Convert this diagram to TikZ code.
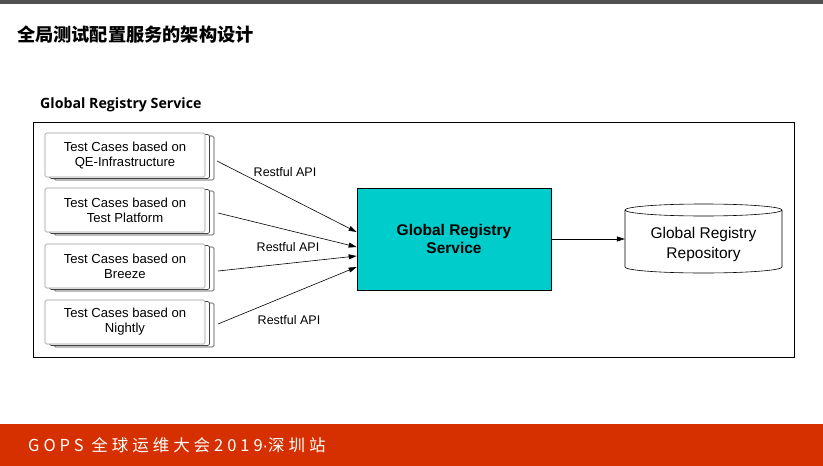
\documentclass[tikz,border=0pt]{standalone}
\usepackage{fontspec}
\setmainfont{Liberation Sans}
\newfontfamily\cjk{Noto Sans CJK SC}
\newfontfamily\cjkspaced[LetterSpace=24]{Noto Sans CJK SC}
\newfontfamily\dotfont[LetterSpace=24]{Liberation Sans}
\newfontfamily\headfont{Open Sans}
\usetikzlibrary{arrows.meta,shapes.geometric,shadows}
\definecolor{topgray}{RGB}{80,80,80}
\definecolor{barred}{RGB}{214,48,0}
\definecolor{svccyan}{RGB}{0,204,204}
\tikzset{
  tcbox/.style={draw=gray!80, fill=white, rounded corners=1.5pt, minimum width=160pt, minimum height=44pt,
    inner sep=0pt, align=center, font=\fontsize{13.1}{15}\selectfont, line width=0.6pt,
    double copy shadow={shadow xshift=4.5pt, shadow yshift=-1.5pt, draw=black!75, fill=white}},
  svcbox/.style={draw=black, fill=svccyan, minimum width=194pt, minimum height=102pt, align=center,
    font=\fontsize{15.5}{18}\selectfont\bfseries, line width=0.7pt},
  repo/.style={minimum width=157pt, minimum height=69pt, inner sep=0pt},
  repoline/.style={draw=black, fill=white, line width=0.6pt},
  repotxt/.style={align=center, inner sep=0pt, font=\fontsize{15.5}{20}\selectfont},
  api/.style={font=\fontsize{12.5}{14}\selectfont},
  link/.style={-{Triangle[length=8pt,width=5pt]}, line width=0.6pt}
}
\begin{document}
\begin{tikzpicture}[x=1pt,y=-1pt]
\useasboundingbox (0,0) rectangle (823,466);
\fill[topgray] (0,0) rectangle (823,4);
\node[anchor=west, inner sep=0pt, font=\cjk\bfseries\fontsize{18.2}{20}\selectfont] (title) at (17,35) {全局测试配置服务的架构设计};
\node[anchor=west, inner sep=0pt, font=\headfont\bfseries\fontsize{14.2}{16}\selectfont] (head) at (40,105) {Global Registry Service};
\draw[line width=0.8pt] (33,122) rectangle (794,357);
\node[tcbox] (b1) at (125,155) {Test Cases based on\\QE-Infrastructure};
\node[tcbox] (b2) at (125,210) {Test Cases based on\\Test Platform};
\node[tcbox] (b3) at (125,266) {Test Cases based on\\Breeze};
\node[tcbox] (b4) at (125,322) {Test Cases based on\\Nightly};
\node[svcbox] (svc) at (454,239) {Global Registry\\Service};
% repository cylinder
\node[repo, anchor=north] (repo) at (703.5,204) {};
\path[repoline] (625,210) -- (625,267) arc[start angle=180, end angle=360, x radius=78.5pt, y radius=6pt]
  -- (782,210) arc[start angle=0, end angle=180, x radius=78.5pt, y radius=6pt] -- cycle;
\draw[line width=0.6pt] (625,210) arc[start angle=180, end angle=360, x radius=78.5pt, y radius=6pt];
\node[repotxt] (repot) at (703.5,244.5) {Global Registry\\Repository};
\coordinate (s1) at (217,161);
\coordinate (s2) at (218,213);
\coordinate (s3) at (218,271);
\coordinate (s4) at (218,324);
\draw[link] (s1) -- (svc.west |- 0,232);
\draw[link] (s2) -- (svc.west |- 0,247);
\draw[link] (s3) -- (svc.west |- 0,256);
\draw[link] (s4) -- (svc.west |- 0,267);
\draw[link] (svc.east) -- (svc.east -| repo.west);
\node[api] (api1) at (285,172) {Restful API};
\node[api] (api2) at (288,247) {Restful API};
\node[api] (api3) at (289,320) {Restful API};
\fill[barred] (0,424) rectangle (823,466);
\node[anchor=west, inner sep=0pt, text=white, font=\cjkspaced\fontsize{16.5}{18}\selectfont] (foot) at (28,445) {GOPS 全球运维大会2019{\dotfont ·}深圳站};
\end{tikzpicture}
\end{document}
